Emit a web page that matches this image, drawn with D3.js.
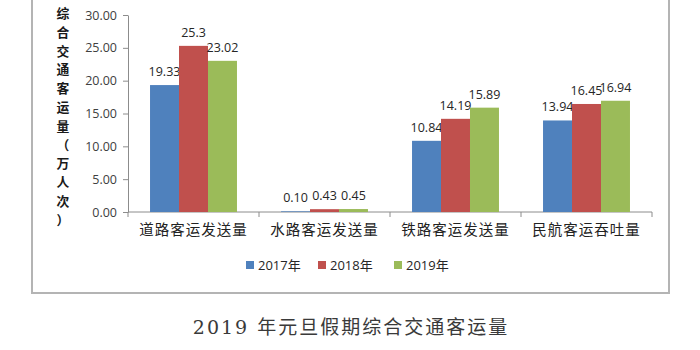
<!DOCTYPE html>
<html>
<head>
<meta charset="utf-8">
<script src="https://cdn.jsdelivr.net/npm/d3@7"></script>
<style>
  html, body { margin: 0; padding: 0; background: #fff; }
  svg { display: block; }
</style>
</head>
<body>
<svg id="chart" width="700" height="350"></svg>
<script>
// Passenger volume over the New Year holiday, in units of 10,000 trips
const categories = ["道路客运发送量", "水路客运发送量", "铁路客运发送量", "民航客运吞吐量"];
const years = ["2017年", "2018年", "2019年"];
const values2017 = [19.33, 0.10, 10.84, 13.94];
const values2018 = [25.3, 0.43, 14.19, 16.45];
const values2019 = [23.02, 0.45, 15.89, 16.94];
const valueLabels2017 = ["19.33", "0.10", "10.84", "13.94"];
const valueLabels2018 = ["25.3", "0.43", "14.19", "16.45"];
const valueLabels2019 = ["23.02", "0.45", "15.89", "16.94"];
const yTicks = [0, 5, 10, 15, 20, 25, 30];
const yTickLabels = ["0.00", "5.00", "10.00", "15.00", "20.00", "25.00", "30.00"];
const yTitle = "综合交通客运量（万人次）";
const caption = "2019 年元旦假期综合交通客运量";

const series = [values2017, values2018, values2019];
const seriesLabels = [valueLabels2017, valueLabels2018, valueLabels2019];
const colors = ["#4F81BD", "#C0504D", "#9BBB59"];

const svg = d3.select("#chart");
const sansFont = "'Open Sans', 'Noto Sans CJK SC', sans-serif";

// outer frame around the chart area
svg.append("rect")
  .attr("x", 32).attr("y", -10)
  .attr("width", 637).attr("height", 303)
  .attr("fill", "#fff")
  .attr("stroke", "#b4b4b4")
  .attr("stroke-width", 2);

const y = d3.scaleLinear().domain([0, 30]).range([212, 15]);
const x0 = d3.scaleBand().domain(categories).range([128, 652]).paddingInner(0).paddingOuter(0);
const x1 = d3.scaleBand().domain(years).range([0, x0.bandwidth()]).paddingInner(0).paddingOuter(0.76);

// y axis
const yAxis = d3.axisLeft(y)
  .tickValues(yTicks)
  .tickFormat((d, i) => yTickLabels[i])
  .tickSizeInner(5).tickSizeOuter(0).tickPadding(6);
const gy = svg.append("g").attr("transform", "translate(128,0)").call(yAxis);
gy.select(".domain").attr("stroke", "#8c8c8c");
gy.selectAll(".tick line").attr("stroke", "#8c8c8c");
gy.selectAll(".tick text")
  .attr("font-family", sansFont)
  .attr("font-size", 12.5)
  .attr("fill", "#404040");

// x axis with ticks at the category boundaries
const gx = svg.append("g").attr("transform", "translate(0,212)");
gx.append("line")
  .attr("x1", 128).attr("x2", 652)
  .attr("stroke", "#8c8c8c");
const boundaries = categories.map(c => x0(c)).concat([x0(categories[categories.length - 1]) + x0.bandwidth()]);
gx.selectAll("line.bound").data(boundaries).enter().append("line")
  .attr("class", "bound")
  .attr("x1", d => d).attr("x2", d => d)
  .attr("y1", 0).attr("y2", 5)
  .attr("stroke", "#8c8c8c");
gx.selectAll("text.cat").data(categories).enter().append("text")
  .attr("class", "cat")
  .attr("x", d => x0(d) + x0.bandwidth() / 2)
  .attr("y", 23)
  .attr("text-anchor", "middle")
  .attr("font-family", "'Noto Sans CJK SC', sans-serif")
  .attr("font-size", 14.5)
  .attr("letter-spacing", 1)
  .attr("fill", "#222")
  .text(d => d);

// bars and value labels
series.forEach((vals, si) => {
  const g = svg.append("g");
  g.selectAll("rect").data(vals).enter().append("rect")
    .attr("x", (d, i) => x0(categories[i]) + x1(years[si]))
    .attr("y", d => y(d))
    .attr("width", x1.bandwidth())
    .attr("height", d => y(0) - y(d))
    .attr("fill", colors[si]);
  g.selectAll("text").data(vals).enter().append("text")
    .attr("x", (d, i) => x0(categories[i]) + x1(years[si]) + x1.bandwidth() / 2)
    .attr("y", d => y(d) - 9)
    .attr("text-anchor", "middle")
    .attr("font-family", sansFont)
    .attr("font-size", 12.5)
    .attr("fill", "#262626")
    .text((d, i) => seriesLabels[si][i]);
});

// vertical y-axis title, one character per line
const title = svg.append("text")
  .attr("font-family", "'Noto Sans CJK SC', sans-serif")
  .attr("font-size", 12.8)
  .attr("font-weight", "bold")
  .attr("fill", "#1a1a1a")
  .attr("text-anchor", "middle");
Array.from(yTitle).forEach((ch, i) => {
  title.append("tspan")
    .attr("x", 63)
    .attr("y", 18 + i * 18.8)
    .text(ch);
});

// legend
const legendX = [246, 318, 394];
const legend = svg.append("g");
years.forEach((yr, i) => {
  legend.append("rect")
    .attr("x", legendX[i]).attr("y", 261)
    .attr("width", 8).attr("height", 8)
    .attr("fill", colors[i]);
  legend.append("text")
    .attr("x", legendX[i] + 12).attr("y", 270)
    .attr("font-family", sansFont)
    .attr("font-size", 13)
    .attr("fill", "#262626")
    .text(yr);
});

// caption under the frame
svg.append("text")
  .attr("x", 351).attr("y", 334)
  .attr("text-anchor", "middle")
  .attr("font-family", "'DejaVu Serif', 'Liberation Serif', 'Noto Sans CJK SC', serif")
  .attr("font-size", 19)
  .attr("letter-spacing", 2)
  .attr("fill", "#3a3a3a")
  .text(caption);
</script>
</body>
</html>
